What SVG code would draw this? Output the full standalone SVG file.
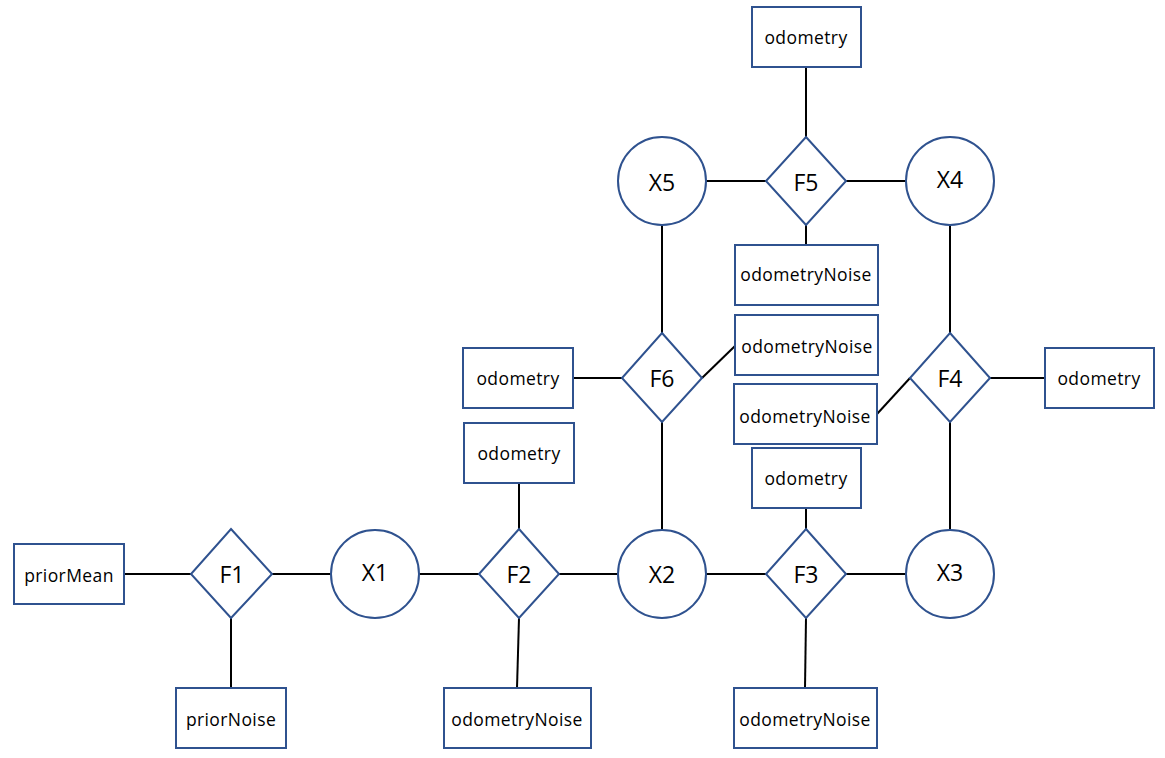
<svg xmlns="http://www.w3.org/2000/svg" width="1165" height="758" viewBox="0 0 1165 758">
<style>
.s{fill:#fff;stroke:#2F528F;stroke-width:2}
.c line{stroke:#000;stroke-width:2}
.t{font-family:"Open Sans","Liberation Sans",sans-serif;font-size:17.5px;letter-spacing:0.4px;fill:#000;text-anchor:middle;dominant-baseline:central}
.b{font-family:"Open Sans","Liberation Sans",sans-serif;font-size:23px;fill:#000;text-anchor:middle;dominant-baseline:central}
</style>
<rect width="1165" height="758" fill="#fff"/>
<g class="c" id="connectors">
<line x1="124" y1="574" x2="191" y2="574"/>
<line x1="272" y1="574" x2="331" y2="574"/>
<line x1="231" y1="618" x2="231" y2="688"/>
<line x1="419" y1="574" x2="479" y2="574"/>
<line x1="559" y1="574" x2="618" y2="574"/>
<line x1="519" y1="483" x2="519" y2="529"/>
<line x1="519" y1="618" x2="517" y2="688"/>
<line x1="706" y1="574" x2="766" y2="574"/>
<line x1="846" y1="574" x2="906" y2="574"/>
<line x1="806" y1="508" x2="806" y2="529"/>
<line x1="806" y1="618" x2="805" y2="688"/>
<line x1="706" y1="181" x2="766" y2="181"/>
<line x1="846" y1="181" x2="906" y2="181"/>
<line x1="806" y1="67" x2="806" y2="137"/>
<line x1="806" y1="225" x2="806" y2="245"/>
<line x1="662" y1="226" x2="662" y2="333"/>
<line x1="662" y1="422" x2="662" y2="530"/>
<line x1="573" y1="378" x2="622" y2="378"/>
<line x1="702" y1="378" x2="735" y2="346"/>
<line x1="950" y1="226" x2="950" y2="333"/>
<line x1="950" y1="422" x2="950" y2="530"/>
<line x1="877" y1="414" x2="910" y2="378"/>
<line x1="990" y1="378" x2="1045" y2="378"/>
</g>
<g id="priorMean"><rect class="s" x="14" y="544" width="110" height="60"/><text class="t" x="69" y="575">priorMean</text></g>
<g id="F1"><polygon class="s" points="231,529 272,574 231,618 191,574"/><text class="b" x="232" y="574">F1</text></g>
<g id="X1"><circle class="s" cx="375" cy="574" r="44"/><text class="b" x="375" y="572">X1</text></g>
<g id="priorNoise"><rect class="s" x="176" y="688" width="110" height="60"/><text class="t" x="231" y="719">priorNoise</text></g>
<g id="F2"><polygon class="s" points="519,529 559,574 519,618 479,574"/><text class="b" x="519" y="574">F2</text></g>
<g id="odometryF2"><rect class="s" x="464" y="423" width="110" height="60"/><text class="t" x="519" y="453">odometry</text></g>
<g id="odometryNoiseF2"><rect class="s" x="444" y="688" width="147" height="60"/><text class="t" x="517" y="719">odometryNoise</text></g>
<g id="X2"><circle class="s" cx="662" cy="574" r="44"/><text class="b" x="662" y="574">X2</text></g>
<g id="F3"><polygon class="s" points="806,529 846,574 806,618 766,574"/><text class="b" x="806" y="574">F3</text></g>
<g id="odometryF3"><rect class="s" x="752" y="448" width="109" height="60"/><text class="t" x="806" y="478">odometry</text></g>
<g id="odometryNoiseF3"><rect class="s" x="734" y="688" width="143" height="60"/><text class="t" x="805" y="719">odometryNoise</text></g>
<g id="X3"><circle class="s" cx="950" cy="574" r="44"/><text class="b" x="950" y="572">X3</text></g>
<g id="X5"><circle class="s" cx="662" cy="181" r="44"/><text class="b" x="662" y="182">X5</text></g>
<g id="F5"><polygon class="s" points="806,137 846,181 806,225 766,181"/><text class="b" x="806" y="182">F5</text></g>
<g id="X4"><circle class="s" cx="950" cy="181" r="44"/><text class="b" x="950" y="179">X4</text></g>
<g id="odometryF5"><rect class="s" x="752" y="7" width="109" height="60"/><text class="t" x="806" y="37">odometry</text></g>
<g id="odometryNoiseF5"><rect class="s" x="735" y="245" width="143" height="60"/><text class="t" x="806" y="274">odometryNoise</text></g>
<g id="F6"><polygon class="s" points="662,333 702,378 662,422 622,378"/><text class="b" x="662" y="378">F6</text></g>
<g id="odometryF6"><rect class="s" x="463" y="348" width="110" height="60"/><text class="t" x="518" y="378">odometry</text></g>
<g id="odometryNoiseF6"><rect class="s" x="735" y="315" width="143" height="60"/><text class="t" x="807" y="346">odometryNoise</text></g>
<g id="F4"><polygon class="s" points="950,333 990,378 950,422 910,378"/><text class="b" x="950" y="378">F4</text></g>
<g id="odometryNoiseF4"><rect class="s" x="734" y="384" width="143" height="60"/><text class="t" x="805" y="416">odometryNoise</text></g>
<g id="odometryF4"><rect class="s" x="1045" y="348" width="109" height="60"/><text class="t" x="1099" y="378">odometry</text></g>
</svg>
